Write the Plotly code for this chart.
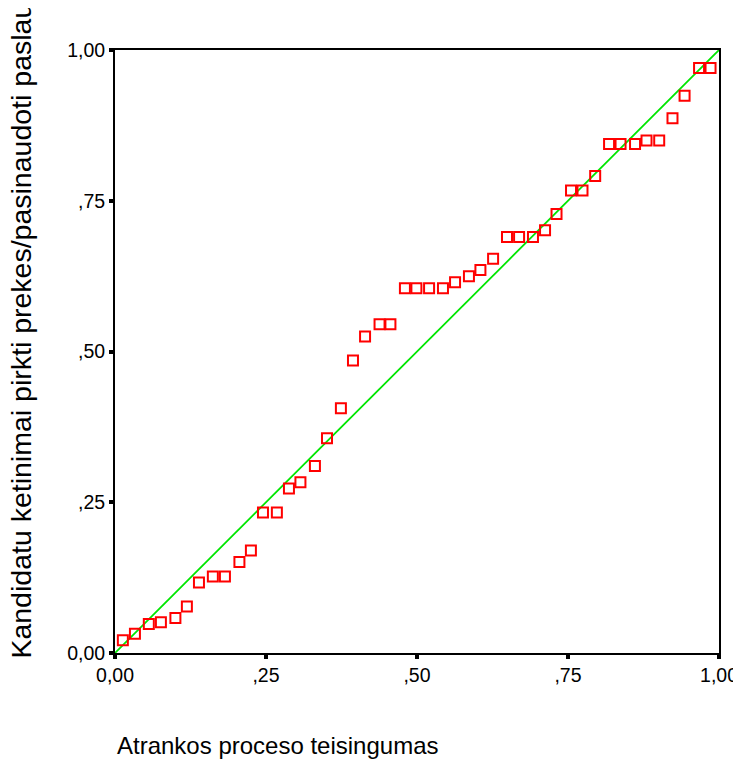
import plotly.graph_objects as go

obs_prob = [0.013, 0.033, 0.056, 0.076, 0.100, 0.119, 0.139, 0.162, 0.182, 0.206,
            0.225, 0.245, 0.268, 0.288, 0.307, 0.331, 0.351, 0.374, 0.394, 0.414,
            0.438, 0.456, 0.480, 0.499, 0.520, 0.543, 0.563, 0.586, 0.605, 0.626,
            0.649, 0.669, 0.692, 0.712, 0.731, 0.755, 0.774, 0.795, 0.818, 0.837,
            0.861, 0.880, 0.901, 0.923, 0.943, 0.967, 0.986]
exp_prob = [0.021, 0.032, 0.048, 0.051, 0.058, 0.077, 0.117, 0.127, 0.127, 0.151,
            0.170, 0.233, 0.233, 0.273, 0.283, 0.310, 0.356, 0.406, 0.485, 0.525,
            0.545, 0.545, 0.605, 0.605, 0.605, 0.605, 0.615, 0.625, 0.635, 0.654,
            0.690, 0.690, 0.690, 0.701, 0.728, 0.767, 0.767, 0.791, 0.844, 0.844,
            0.844, 0.850, 0.850, 0.887, 0.924, 0.970, 0.970]
ref_line = [0.0, 1.0]
tick_vals = [0.0, 0.25, 0.5, 0.75, 1.0]
tick_text = ["0,00", ",25", ",50", ",75", "1,00"]

fig = go.Figure()
fig.add_trace(go.Scatter(x=ref_line, y=ref_line, mode="lines",
                         line=dict(color="#00e600", width=1.8),
                         hoverinfo="skip", showlegend=False))
fig.add_trace(go.Scatter(x=obs_prob, y=exp_prob, mode="markers",
                         marker=dict(symbol="square-open", size=10, color="#ff0000",
                                     line=dict(width=2, color="#ff0000")),
                         showlegend=False, cliponaxis=False))

axis_common = dict(range=[0, 1], tickvals=tick_vals, ticktext=tick_text,
                   showgrid=False, zeroline=False, showline=True, linecolor="black",
                   linewidth=2, mirror=True, ticks="outside", ticklen=4, tickwidth=4,
                   tickcolor="black", automargin=False,
                   tickfont=dict(family="Liberation Sans, Arial", size=19.5, color="black"))

fig.update_xaxes(**axis_common)
fig.update_yaxes(**axis_common)

# page body has an 8px margin, so the figure is sized to fit the 741x760 window
fig.update_layout(
    width=733, height=752,
    margin=dict(l=107, r=22, t=42, b=107),
    plot_bgcolor="white", paper_bgcolor="white",
    font=dict(family="Liberation Sans, Arial", color="black"),
    annotations=[
        dict(text="Atrankos proceso teisingumas", xref="paper", yref="paper",
             x=0, y=-0.127, xanchor="left", yanchor="top", showarrow=False,
             font=dict(size=24, color="black")),
        dict(text="Kandidatu ketinimai pirkti prekes/pasinaudoti paslaugomis",
             xref="paper", yref="paper", x=-0.155, y=-0.012, textangle=-90,
             xanchor="center", yanchor="bottom", showarrow=False,
             font=dict(size=28.5, color="black")),
    ],
)

fig.write_html("out.html")
